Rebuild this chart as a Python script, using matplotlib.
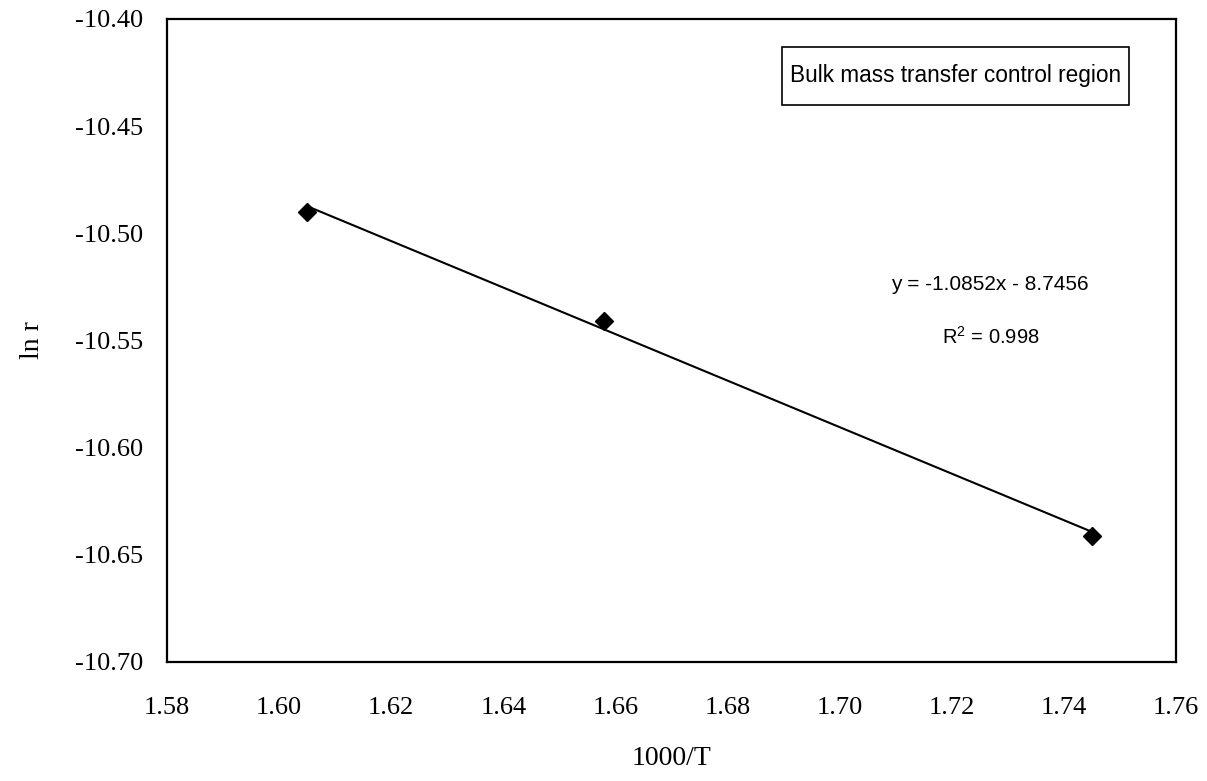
import matplotlib
matplotlib.use('Agg')
import matplotlib.pyplot as plt
from matplotlib.patches import Rectangle

# data
inv_T = [1.605, 1.658, 1.745]
ln_r = [-10.490, -10.541, -10.641]
slope = -1.0852
intercept = -8.7456
r2 = 0.998

x_ticks = [1.58, 1.60, 1.62, 1.64, 1.66, 1.68, 1.70, 1.72, 1.74, 1.76]
y_ticks = [-10.70, -10.65, -10.60, -10.55, -10.50, -10.45, -10.40]

plt.rcParams['mathtext.fontset'] = 'custom'
plt.rcParams['mathtext.rm'] = 'Liberation Sans'

fig = plt.figure(figsize=(12.07, 7.81), dpi=100)
ax = fig.add_axes([0.1384, 0.1524, 0.8359, 0.8233])

# trendline from the fitted equation
x_fit = [min(inv_T), max(inv_T)]
y_fit = [slope * v + intercept for v in x_fit]
ax.plot(x_fit, y_fit, color='black', linewidth=1.5)
ax.plot(inv_T, ln_r, linestyle='none', marker='D', markersize=9, color='black')

ax.set_xlim(1.58, 1.76)
ax.set_ylim(-10.70, -10.40)
ax.set_xticks(x_ticks)
ax.set_yticks(y_ticks)
ax.set_xticklabels(['%.2f' % v for v in x_ticks], fontfamily='Liberation Serif', fontsize=19)
ax.set_yticklabels(['%.2f' % v for v in y_ticks], fontfamily='Liberation Serif', fontsize=19)
ax.tick_params(axis='both', length=0)
ax.tick_params(axis='x', pad=25)
ax.tick_params(axis='y', pad=17)

for s in ax.spines.values():
    s.set_linewidth(1.6)
    s.set_color('black')

ax.set_xlabel('1000/T', fontfamily='Liberation Serif', fontsize=20, labelpad=20)
ax.set_ylabel('ln r', fontfamily='Liberation Serif', fontsize=20, labelpad=22)

# legend-like box
ax.add_patch(Rectangle((0.6095, 0.8663), 0.3439, 0.0902, transform=ax.transAxes,
                       facecolor='white', edgecolor='black', linewidth=1.2))
ax.text(0.617, 0.9114, 'Bulk mass transfer control region', transform=ax.transAxes,
        fontfamily='Liberation Sans', fontsize=16.3, va='center', ha='left')

ax.text(0.8157, 0.5863, 'y = %.4fx - %.4f' % (slope, -intercept), transform=ax.transAxes,
        fontfamily='Liberation Sans', fontsize=15, va='center', ha='center')
ax.text(0.768, 0.5054, 'R$^2$ = %.3f' % r2, transform=ax.transAxes,
        fontfamily='Liberation Sans', fontsize=14.5, va='center', ha='left')

fig.savefig('out.png', dpi=100)
